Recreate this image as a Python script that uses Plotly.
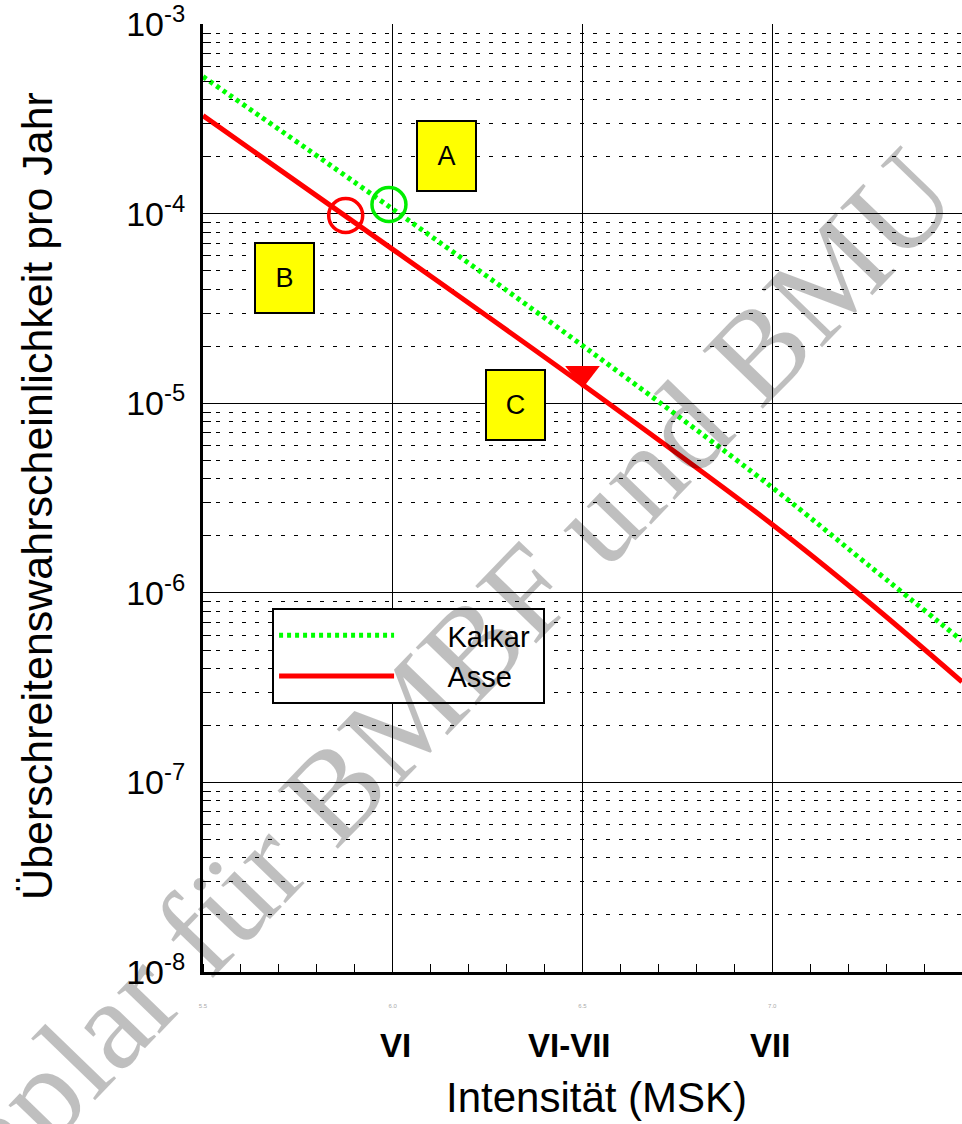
import plotly.graph_objects as go

# ---- data ----
intensity = [5.5, 6.0, 6.5, 7.0, 7.25, 7.5]
kalkar = [5.3e-4, 1.06e-4, 2.02e-5, 3.6e-6, 1.42e-6, 5.6e-7]
asse = [3.3e-4, 6.5e-5, 1.26e-5, 2.3e-6, 9.1e-7, 3.4e-7]

circle_red = (5.876, 9.8e-5)
circle_green = (5.99, 1.12e-4)
triangle_pt = (6.5, 1.44e-5)

box_labels = ["A", "B", "C"]
box_x = [6.141, 5.715, 6.324]
box_logy = [-3.695, -4.337, -5.009]

x_tickvals = [5.5, 6.0, 6.5, 7.0, 7.5]
x_ticktext = ["5.5", "6.0", "6.5", "7.0", "7.5"]
roman_x = [6.008, 6.465, 6.995]
roman_text = ["VI", "VI-VII", "VII"]
y_tickvals = [1e-8, 1e-7, 1e-6, 1e-5, 1e-4, 1e-3]
y_ticktext = ["10<sup>-8</sup>", "10<sup>-7</sup>", "10<sup>-6</sup>",
              "10<sup>-5</sup>", "10<sup>-4</sup>", "10<sup>-3</sup>"]

FONT = "Liberation Sans, Arial, sans-serif"
NB = "\u00a0"

fig = go.Figure()
fig.add_trace(go.Scatter(x=intensity, y=kalkar, mode="lines", name=NB * 6 + "Kalkar" + NB,
                         line=dict(color="#00ff00", width=5, dash="4px,4px", shape="spline")))
fig.add_trace(go.Scatter(x=intensity, y=asse, mode="lines", name=NB * 6 + "Asse",
                         line=dict(color="#ff0000", width=5, shape="spline")))
fig.add_trace(go.Scatter(x=[circle_red[0]], y=[circle_red[1]], mode="markers", showlegend=False,
                         marker=dict(symbol="circle-open", size=34, color="#ff0000",
                                     line=dict(width=3.5, color="#ff0000"))))
fig.add_trace(go.Scatter(x=[circle_green[0]], y=[circle_green[1]], mode="markers", showlegend=False,
                         marker=dict(symbol="circle-open", size=34, color="#00ee00",
                                     line=dict(width=3.5, color="#00ee00"))))
fig.add_trace(go.Scatter(x=[triangle_pt[0]], y=[triangle_pt[1]], mode="markers", showlegend=False,
                         marker=dict(symbol="triangle-down", size=30, color="#ff0000")))

annotations = []
for t, bx, by in zip(box_labels, box_x, box_logy):
    annotations.append(dict(x=bx, y=by, xref="x", yref="y", text=t, showarrow=False,
                            font=dict(family=FONT, size=27, color="black"),
                            bgcolor="#ffff00", bordercolor="black", borderwidth=2,
                            borderpad=0, width=57, height=68))
for t, rx in zip(roman_text, roman_x):
    annotations.append(dict(x=rx, y=-0.0779, xref="x", yref="paper", text="<b>%s</b>" % t,
                            showarrow=False, font=dict(family=FONT, size=33, color="black"),
                            xanchor="center", yanchor="middle"))
annotations.append(dict(x=0.518, y=-0.1326, xref="paper", yref="paper", text="Intensität (MSK)",
                        showarrow=False, font=dict(family=FONT, size=42, color="black"),
                        xanchor="center", yanchor="middle"))
annotations.append(dict(x=-0.2190, y=0.502, xref="paper", yref="paper",
                        text="Überschreitenswahrscheinlichkeit pro Jahr", textangle=-90,
                        showarrow=False, font=dict(family=FONT, size=43, color="black"),
                        xanchor="center", yanchor="middle"))
annotations.append(dict(x=0.222, y=0.232, xref="paper", yref="paper",
                        text="Exemplar für BMBF und BMU", textangle=-46,
                        showarrow=False, font=dict(family="Liberation Serif, Times New Roman, serif",
                                                   size=128, color="rgba(0,0,0,0.25)"),
                        xanchor="center", yanchor="middle"))

fig.update_layout(
    width=962, height=1124,
    margin=dict(l=203, r=0, t=22, b=152),
    plot_bgcolor="white", paper_bgcolor="white",
    font=dict(family=FONT, color="black"),
    showlegend=True,
    legend=dict(x=0.091, y=0.384, xanchor="left", yanchor="top",
                bgcolor="white", bordercolor="black", borderwidth=2,
                font=dict(family=FONT, size=29, color="black"),
                itemwidth=115, tracegroupgap=0),
    annotations=annotations,
    xaxis=dict(range=[5.5, 7.5], tickvals=x_tickvals, ticktext=x_ticktext,
               tickfont=dict(size=6, color="#aaaaaa"), ticks="", ticklabelstandoff=26,
               showgrid=True, gridcolor="black", gridwidth=1,
               showline=True, linecolor="black", linewidth=3, zeroline=False,
               minor=dict(dtick=0.1, ticks="inside", ticklen=8, tickwidth=1, tickcolor="black",
                          showgrid=False)),
    yaxis=dict(type="log", range=[-8, -2.998], tickvals=y_tickvals, ticktext=y_ticktext,
               tickfont=dict(size=34, color="black"), ticks="inside", ticklen=15,
               tickcolor="black", ticklabelstandoff=8, ticklabeloverflow="allow",
               showgrid=True, gridcolor="black", gridwidth=1,
               showline=True, linecolor="black", linewidth=3, zeroline=False,
               minor=dict(dtick="D1", ticks="inside", ticklen=8, tickcolor="black",
                          showgrid=True, gridcolor="black", gridwidth=1, griddash="4px,9px")),
)

fig.write_html("out.html", config={"displayModeBar": False},
               post_script="document.body.style.margin='0';document.body.style.overflow='hidden';")
